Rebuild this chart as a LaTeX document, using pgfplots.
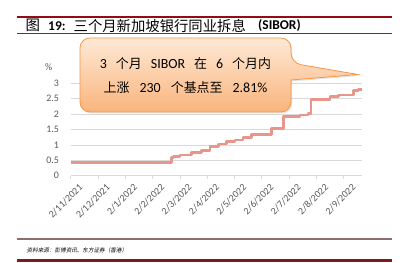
\documentclass[border=0pt]{standalone}
\usepackage{pgfplots}
\pgfplotsset{compat=1.18}
\usepackage{fontspec}
\setmainfont{Carlito}
\newfontfamily\cjk{Noto Sans CJK SC}
\newfontfamily\cjkslant[FakeSlant=0.2]{Noto Sans CJK SC}
\usetikzlibrary{shadows}
\definecolor{linec}{RGB}{232,150,140}
\definecolor{gridc}{RGB}{217,217,217}
\definecolor{labelc}{RGB}{89,89,89}
\definecolor{titlered}{RGB}{150,10,20}
\definecolor{titlered2}{RGB}{175,20,30}
\definecolor{footgray}{RGB}{140,110,110}
\definecolor{footred}{RGB}{120,28,28}
\definecolor{boxtop}{RGB}{254,233,214}
\definecolor{boxbot}{RGB}{250,180,124}
\definecolor{boxborder}{RGB}{247,150,70}
\begin{document}
\begin{tikzpicture}[x=1bp,y=1bp]
\useasboundingbox (0,0) rectangle (407,263);
% title rules
\draw[titlered, line width=2bp] (17,245.7) -- (392,245.7);
\draw[titlered2, line width=1bp] (17,229) -- (392,229);
\node[anchor=west, inner sep=0, font=\cjk\fontsize{14.5}{16}\selectfont] at (25.5,237.3) {图};
\node[anchor=west, inner sep=0, font=\bfseries\fontsize{13.5}{16}\selectfont] at (48,237.3) {19:};
\node[anchor=west, inner sep=0, font=\cjk\fontsize{14.4}{16}\selectfont] at (73.5,237.3) {三个月新加坡银行同业拆息};
\node[anchor=west, inner sep=0, font=\bfseries\fontsize{13.5}{16}\selectfont] at (258,237.3) {(SIBOR)};
% footer
\draw[footgray, line width=1.2bp] (17,24) -- (392,24);
\draw[footred, line width=2.5bp] (17,2.5) -- (392,2.5);
\node[anchor=west, inner sep=0, font=\cjkslant\fontsize{5.6}{7}\selectfont] at (26.5,13) {资料来源：彭博资讯、东方证券（香港）};
% chart
\begin{axis}[
  at={(70.7bp,87.3bp)}, anchor=south west,
  scale only axis, width=291.6bp, height=92.4bp,
  xmin=0, xmax=10.68, ymin=0, ymax=3,
  axis lines=left, axis line style={-},
  y axis line style={draw=none},
  x axis line style={draw=gridc, line width=0.75bp},
  xtick={0,1,2,3,4,5,6,7,8,9,10},
  xticklabels={2/11/2021,2/12/2021,2/1/2022,2/2/2022,2/3/2022,2/4/2022,2/5/2022,2/6/2022,2/7/2022,2/8/2022,2/9/2022},
  ytick={0,0.5,1,1.5,2,2.5,3},
  yticklabels={0,0.5,1,1.5,2,2.5,3},
  ymajorgrids, grid style={draw=gridc, line width=0.75bp},
  tick align=outside, major tick length=3.5bp,
  xtick style={draw=gridc, line width=0.75bp},
  ytick style={draw=none},
  tick label style={font=\fontsize{10}{12}\selectfont, text=labelc, inner sep=0pt},
  xticklabel style={rotate=45, anchor=north east, xshift=2.6bp, yshift=-8bp},
  yticklabel style={anchor=east, xshift=-8bp},
  /pgf/number format/assume math mode=true,
  clip=false,
]
\addplot[const plot, draw=linec, line width=2.8bp, line join=round] coordinates {
(0,0.44) (3.68,0.60) (3.76,0.62) (4.00,0.67) (4.43,0.75) (4.80,0.83)
(5.10,0.94) (5.41,1.03) (5.71,1.10) (6.02,1.16) (6.31,1.25) (6.63,1.34)
(7.36,1.54) (7.79,1.93) (8.40,1.97) (8.69,2.03) (8.80,2.48) (9.50,2.57)
(9.80,2.62) (10.35,2.76) (10.55,2.80) (10.68,2.80)
};
\end{axis}
\node[font=\fontsize{10}{12}\selectfont, text=labelc, inner sep=0] at (48.8,195.7) {\%};
% callout
\path[draw=boxborder, line width=0.8bp, top color=boxtop, bottom color=boxbot,
      drop shadow={opacity=0.2, shadow xshift=1.2bp, shadow yshift=-1.5bp}]
  (80,190) [rounded corners=10bp] -- (80,225) -- (291,225) -- (291,200) [sharp corners] -- (358,188.5) -- (291,183) [rounded corners=10bp] -- (291,151) -- (80,151) -- cycle;
\node[inner sep=0, anchor=center] at (185.5,199.7) {\fontsize{14}{16}\selectfont 3\hspace{9bp}{\cjk\fontsize{13}{16}\selectfont 个月}\hspace{9bp}SIBOR\hspace{9bp}{\cjk\fontsize{13}{16}\selectfont 在}\hspace{9bp}6\hspace{9bp}{\cjk\fontsize{13}{16}\selectfont 个月内}};
\node[inner sep=0, anchor=center] at (185.5,175.7) {\fontsize{14}{16}\selectfont {\cjk\fontsize{13}{16}\selectfont 上涨}\hspace{10bp}230\hspace{10bp}{\cjk\fontsize{13}{16}\selectfont 个基点至}\hspace{10bp}2.81\%};
\end{tikzpicture}
\end{document}
